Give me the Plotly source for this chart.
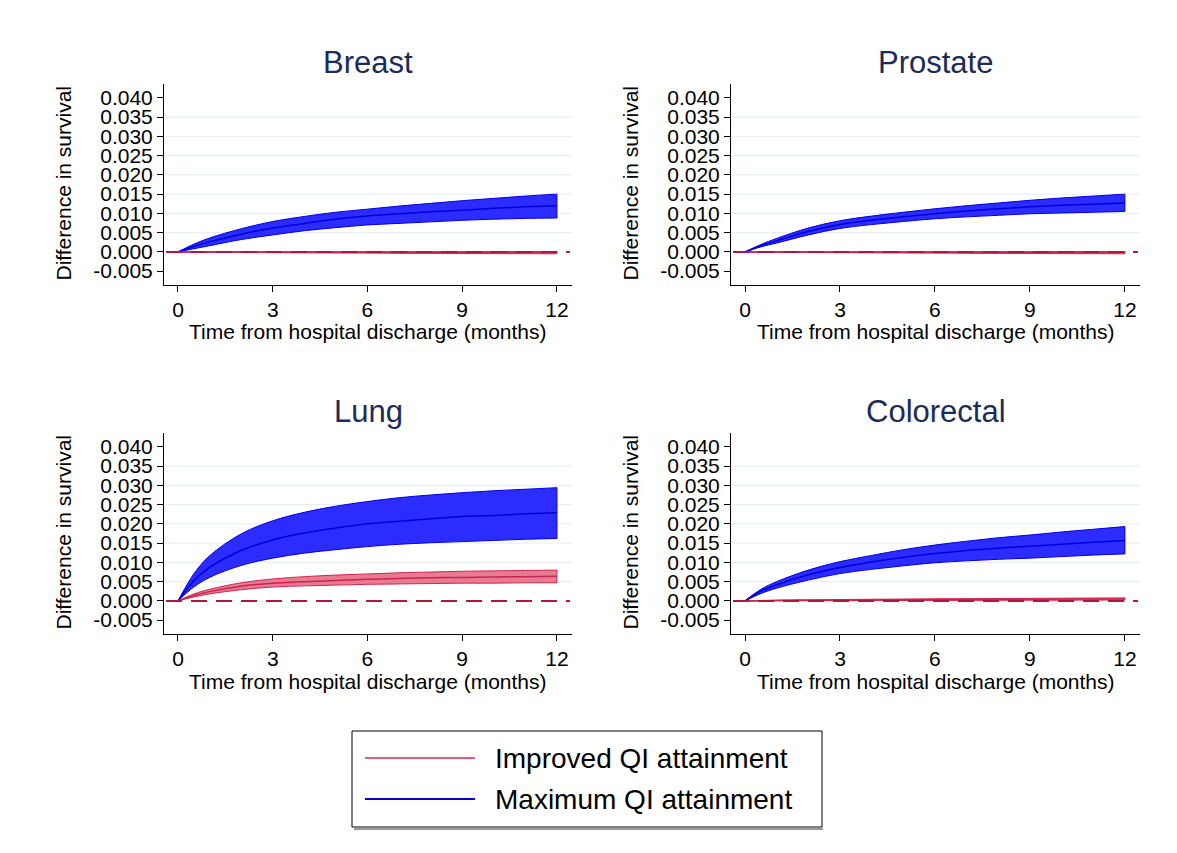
import plotly.graph_objects as go

# ---- data -----------------------------------------------------------------
months = [0, 0.5, 1, 2, 3, 4, 5, 6, 7, 8, 9, 10, 11, 12]

panels = ["Breast", "Prostate", "Lung", "Colorectal"]

# Maximum QI attainment: estimate with 95% band
max_mid = {
    "Breast":     [0, .0014, .0026, .0046, .0062, .0074, .0085, .0093, .0099, .0104, .0108, .0113, .0117, .0120],
    "Prostate":   [0, .0016, .0029, .0053, .0071, .0082, .0091, .0099, .0106, .0112, .0117, .0121, .0124, .0127],
    "Lung":       [0, .0052, .0087, .0131, .0158, .0176, .0189, .0200, .0207, .0213, .0219, .0222, .0226, .0229],
    "Colorectal": [0, .0025, .0042, .0068, .0087, .0101, .0113, .0123, .0131, .0137, .0142, .0147, .0152, .0157],
}
max_hi = {
    "Breast":     [0, .0020, .0036, .0060, .0079, .0092, .0103, .0111, .0119, .0126, .0133, .0139, .0145, .0150],
    "Prostate":   [0, .0019, .0035, .0062, .0081, .0093, .0103, .0112, .0120, .0127, .0134, .0140, .0145, .0150],
    "Lung":       [0, .0070, .0117, .0174, .0208, .0230, .0246, .0258, .0268, .0275, .0281, .0286, .0290, .0294],
    "Colorectal": [0, .0030, .0050, .0080, .0102, .0118, .0133, .0145, .0155, .0164, .0171, .0179, .0186, .0193],
}
max_lo = {
    "Breast":     [0, .0008, .0016, .0032, .0044, .0055, .0063, .0070, .0074, .0078, .0082, .0085, .0087, .0088],
    "Prostate":   [0, .0013, .0023, .0044, .0061, .0071, .0079, .0086, .0091, .0095, .0099, .0101, .0103, .0105],
    "Lung":       [0, .0036, .0061, .0092, .0111, .0124, .0133, .0141, .0147, .0151, .0154, .0157, .0160, .0162],
    "Colorectal": [0, .0019, .0033, .0054, .0071, .0082, .0091, .0099, .0104, .0108, .0111, .0115, .0119, .0122],
}

# Improved QI attainment: estimate with 95% band
imp_mid = {
    "Breast":     [0, -.00002, -.00004, -.00006, -.00008, -.0001, -.0001, -.00012, -.00013, -.00014, -.00015, -.00016, -.00017, -.00018],
    "Prostate":   [0, -.00002, -.00004, -.00006, -.00008, -.0001, -.0001, -.00012, -.00013, -.00014, -.00015, -.00016, -.00017, -.00018],
    "Lung":       [0, .0014, .0024, .0038, .0046, .0050, .0053, .0056, .0058, .0060, .0061, .0062, .0063, .0064],
    "Colorectal": [0, .00005, .0001, .00016, .0002, .00025, .0003, .00033, .00036, .0004, .00043, .00046, .00049, .0005],
}
imp_hi = {
    "Breast":     [0, .00001, .00002, .00003, .00004, .00005, .00005, .00006, .00006, .00007, .00007, .00008, .00008, .00009],
    "Prostate":   [0, .00001, .00002, .00003, .00004, .00005, .00005, .00006, .00006, .00007, .00007, .00008, .00008, .00009],
    "Lung":       [0, .0018, .0030, .0047, .0057, .0063, .0067, .0070, .0073, .0075, .0077, .0078, .0079, .0080],
    "Colorectal": [0, .0001, .00018, .00028, .00035, .00042, .00048, .00053, .00058, .00062, .00066, .0007, .00074, .00078],
}
imp_lo = {
    "Breast":     [0, -.00005, -.0001, -.00016, -.0002, -.00025, -.00029, -.00032, -.00036, -.00039, -.00042, -.00045, -.00047, -.0005],
    "Prostate":   [0, -.00005, -.0001, -.00016, -.0002, -.00025, -.00029, -.00032, -.00036, -.00039, -.00042, -.00045, -.00047, -.0005],
    "Lung":       [0, .0010, .0018, .0029, .0036, .0039, .0041, .0043, .0044, .0045, .0046, .0046, .0047, .0047],
    "Colorectal": [0, .00001, .00002, .00004, .00006, .00008, .0001, .00012, .00014, .00016, .00017, .00018, .0002, .00022],
}

x_ticks = [0, 3, 6, 9, 12]
y_ticks = [-0.005, 0.000, 0.005, 0.010, 0.015, 0.020, 0.025, 0.030, 0.035, 0.040]
y_tick_text = ["-0.005", "0.000", "0.005", "0.010", "0.015", "0.020", "0.025", "0.030", "0.035", "0.040"]
grid_vals = [0.005, 0.010, 0.015, 0.020, 0.025, 0.030, 0.035]

legend_labels = ["Improved QI attainment", "Maximum QI attainment"]
x_title = "Time from hospital discharge (months)"
y_title = "Difference in survival"

# ---- styling ----------------------------------------------------------------
W, H = 1177, 853
FONT = "Liberation Sans, Arial, Helvetica, sans-serif"
TITLE_COLOR = "#1c2b57"

BLUE_FILL = "rgb(44,44,255)"
BLUE_EDGE = "#0000e8"
BLUE_MID = "#0000dc"
BLUE_LEG = "#0000c8"
RED_FILL = "rgb(232,122,145)"
RED_EDGE = "#d0284e"
RED_MID = "#cc2450"
RED_LEG = "#e0607c"
ZERO_COLOR = "#b0163e"
GRID_COLOR = "#e6edf0"


def fx(px):
    return px / W


def fy(py):
    return 1 - py / H


# plot-area boxes in pixels: (left, right, top, bottom)
boxes = {
    "Breast":     (164, 572, 84, 285),
    "Prostate":   (731, 1140, 84, 285),
    "Lung":       (164, 572, 433, 634),
    "Colorectal": (731, 1140, 433, 634),
}

fig = go.Figure()
layout_axes = {}
shapes = []
annotations = []

for i, name in enumerate(panels, start=1):
    sfx = "" if i == 1 else str(i)
    xa, ya = "x" + sfx, "y" + sfx
    l, r, t, b = boxes[name]

    # bands and centre lines
    for lo, hi, mid, fill, edge, midc in (
        (max_lo, max_hi, max_mid, BLUE_FILL, BLUE_EDGE, BLUE_MID),
        (imp_lo, imp_hi, imp_mid, RED_FILL, RED_EDGE, RED_MID),
    ):
        fig.add_trace(go.Scatter(x=months, y=lo[name], mode="lines",
                                 line=dict(color=edge, width=1, shape="spline"),
                                 xaxis=xa, yaxis=ya, showlegend=False, hoverinfo="skip"))
        fig.add_trace(go.Scatter(x=months, y=hi[name], mode="lines", fill="tonexty",
                                 fillcolor=fill,
                                 line=dict(color=edge, width=1, shape="spline"),
                                 xaxis=xa, yaxis=ya, showlegend=False, hoverinfo="skip"))
        fig.add_trace(go.Scatter(x=months, y=mid[name], mode="lines",
                                 line=dict(color=midc, width=1.5, shape="spline"),
                                 xaxis=xa, yaxis=ya, showlegend=False))
    # closing vertical edges at the last time point
    for lo, hi, edge in ((max_lo, max_hi, BLUE_EDGE), (imp_lo, imp_hi, RED_EDGE)):
        fig.add_trace(go.Scatter(x=[months[-1], months[-1]], y=[lo[name][-1], hi[name][-1]],
                                 mode="lines", line=dict(color=edge, width=1),
                                 xaxis=xa, yaxis=ya, showlegend=False, hoverinfo="skip"))

    layout_axes["xaxis" + sfx] = dict(
        domain=[fx(l), fx(r)], anchor=ya, range=[-0.443, 12.477],
        tickvals=x_ticks, ticks="outside", ticklen=6, tickwidth=1, tickcolor="black",
        showline=True, linecolor="black", linewidth=1, showgrid=False, zeroline=False,
        tickfont=dict(family=FONT, size=21, color="black"), ticklabelstandoff=0,
    )
    layout_axes["yaxis" + sfx] = dict(
        domain=[fy(b), fy(t)], anchor=xa, range=[-0.0086, 0.0436],
        tickvals=y_ticks, ticktext=y_tick_text, ticks="outside", ticklen=6, tickwidth=1,
        tickcolor="black", showline=True, linecolor="black", linewidth=1,
        showgrid=False, zeroline=False,
        tickfont=dict(family=FONT, size=21, color="black"), ticklabelstandoff=0,
    )

    # light horizontal gridlines
    for g in grid_vals:
        shapes.append(dict(type="line", xref=xa + " domain", yref=ya, x0=0, x1=1, y0=g, y1=g,
                           line=dict(color=GRID_COLOR, width=1), layer="below"))
    # dashed reference line at zero
    shapes.append(dict(type="line", xref=xa + " domain", yref=ya, x0=0.005, x1=0.995, y0=0, y1=0,
                       line=dict(color=ZERO_COLOR, width=2, dash="16px,9px"), layer="above"))

    cx = (l + r) / 2
    annotations.append(dict(text=name, x=fx(cx), y=fy(t - 22), xref="paper", yref="paper",
                            showarrow=False, xanchor="center", yanchor="middle",
                            font=dict(family=FONT, size=31, color=TITLE_COLOR)))
    annotations.append(dict(text=x_title, x=fx(cx), y=fy(b + 47), xref="paper", yref="paper",
                            showarrow=False, xanchor="center", yanchor="middle",
                            font=dict(family=FONT, size=21, color="black")))
    annotations.append(dict(text=y_title, x=fx(l - 101), y=fy((t + b) / 2 - 1), xref="paper",
                            yref="paper", showarrow=False, textangle=-90,
                            xanchor="center", yanchor="middle",
                            font=dict(family=FONT, size=21, color="black")))

# ---- legend box ---------------------------------------------------------------
leg_l, leg_r, leg_t, leg_b = 352, 822, 731, 827
shapes.append(dict(type="line", xref="paper", yref="paper", x0=fx(leg_l + 2), x1=fx(leg_r + 1),
                   y0=fy(leg_b + 2), y1=fy(leg_b + 2), line=dict(color="#9a9a9a", width=2)))
shapes.append(dict(type="rect", xref="paper", yref="paper", x0=fx(leg_l), x1=fx(leg_r),
                   y0=fy(leg_b), y1=fy(leg_t), line=dict(color="black", width=1),
                   fillcolor="white"))
for label, color, py in ((legend_labels[0], RED_LEG, 758), (legend_labels[1], BLUE_LEG, 799)):
    shapes.append(dict(type="line", xref="paper", yref="paper", x0=fx(365), x1=fx(475),
                       y0=fy(py), y1=fy(py), line=dict(color=color, width=2)))
    annotations.append(dict(text=label, x=fx(493), y=fy(py), xref="paper", yref="paper",
                            showarrow=False, xanchor="left", yanchor="middle",
                            font=dict(family=FONT, size=28, color="black")))

fig.update_layout(
    width=W, height=H,
    margin=dict(l=0, r=0, t=0, b=0),
    paper_bgcolor="white", plot_bgcolor="white",
    showlegend=False,
    shapes=shapes, annotations=annotations,
    **layout_axes,
)

fig.write_html("out.html")
